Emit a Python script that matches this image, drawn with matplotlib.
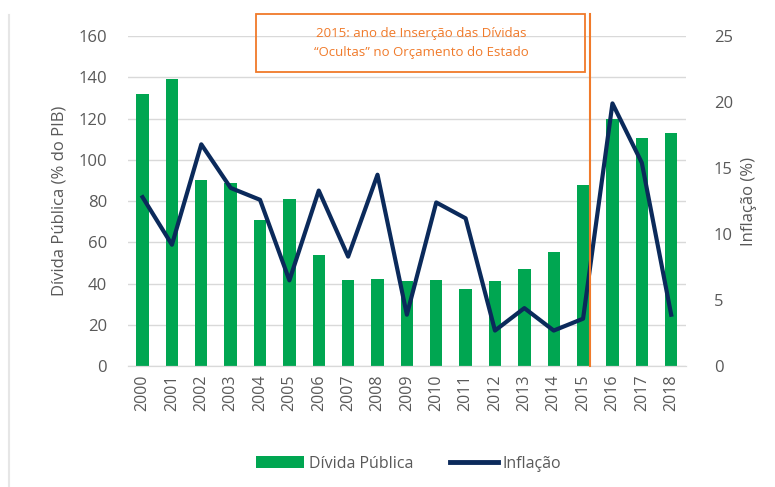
import matplotlib.pyplot as plt
from matplotlib.lines import Line2D
from matplotlib.patches import Patch, Rectangle

years = [str(y) for y in range(2000, 2019)]
divida = [132, 139, 90, 89, 71, 81, 54, 42, 42.5, 41.5, 42, 37.5, 41.5, 47, 55.5, 88, 120, 110.5, 113]
inflacao = [12.8, 9.2, 16.8, 13.5, 12.6, 6.5, 13.3, 8.3, 14.5, 3.9, 12.4, 11.2, 2.7, 4.4, 2.7, 3.6, 19.9, 15.4, 3.9]
marker_year = 15.23  # position of the 2015 marker line, in category units

green = '#00A651'
navy = '#0B2A5B'
orange = '#F07A2A'
grey = '#595959'

plt.rcParams['font.family'] = ['Open Sans', 'DejaVu Sans']

fig = plt.figure(figsize=(7.75, 4.87), dpi=100)
ax = fig.add_axes([0.165, 0.248, 0.72, 0.678])
ax2 = ax.twinx()

x = list(range(len(years)))
ax.bar(x, divida, width=0.42, color=green, zorder=2)
ax2.plot(x, inflacao, color=navy, linewidth=3, zorder=3)

ax.set_xlim(-0.5, len(years) - 0.5)
ax.set_ylim(0, 160)
ax.set_yticks(range(0, 161, 20))
ax2.set_ylim(0, 25)
ax2.set_yticks(range(0, 26, 5))

ax.grid(axis='y', color='#d9d9d9', linewidth=1, zorder=0)
ax.set_axisbelow(True)
for a in (ax, ax2):
    for side in ('top', 'left', 'right'):
        a.spines[side].set_visible(False)
    a.spines['bottom'].set_color('#d9d9d9')
    a.tick_params(length=0, colors=grey, labelsize=12)

ax.set_xticks(x)
ax.set_xticklabels(years, rotation=90, fontsize=11.5)
ax.tick_params(axis='x', pad=6)
ax.tick_params(axis='y', pad=15)
ax2.tick_params(axis='y', pad=20)

ax.set_ylabel('Dívida Pública (% do PIB)', color=grey, fontsize=12, labelpad=8)
ax2.set_ylabel('Inflação (%)', color=grey, fontsize=12, labelpad=6)

# marker line at 2015 and the annotation box above it
ax2.plot([marker_year, marker_year], [0, 26.7], color=orange, linewidth=1.5,
         zorder=4, clip_on=False)
ax2.add_patch(Rectangle((3.85, 22.3), marker_year - 0.18 - 3.85, 4.4, fill=False,
                        edgecolor=orange, linewidth=1.3, clip_on=False, zorder=4))
ax2.text(9.5, 24.5, '2015: ano de Inserção das Dívidas\n“Ocultas” no Orçamento do Estado',
         color=orange, fontsize=9.5, ha='center', va='center', linespacing=1.6)

handles = [Patch(facecolor=green, label='Dívida Pública'),
           Line2D([0], [0], color=navy, linewidth=3.5, label='Inflação')]
leg = fig.legend(handles=handles, loc='center', bbox_to_anchor=(0.527, 0.048), ncol=2,
                 frameon=False, fontsize=11.5, handlelength=3.0, handleheight=0.8,
                 columnspacing=2.3, handletextpad=0.3)
for t in leg.get_texts():
    t.set_color(grey)

# faint page border on the left
fig.add_artist(Line2D([0.012, 0.012], [0.0, 0.97], color='#e6e6e6', linewidth=1.5))

fig.savefig('out.png', dpi=100, facecolor='white')
